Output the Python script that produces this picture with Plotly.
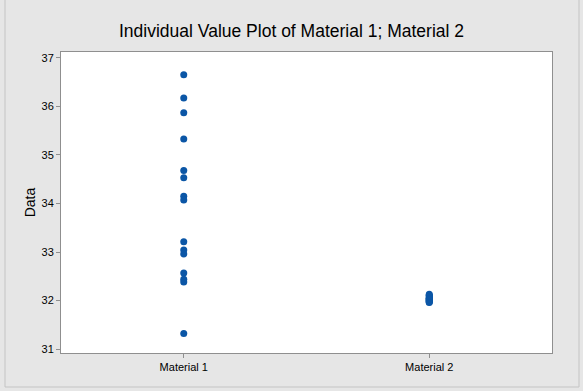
import plotly.graph_objects as go

categories = ["Material 1", "Material 2"]
material_1 = [36.65, 36.17, 35.87, 35.33, 34.68, 34.53, 34.15, 34.07,
              33.21, 33.04, 32.96, 32.57, 32.44, 32.38, 31.32]
material_2 = [32.13, 32.10, 32.08, 32.06, 32.05, 32.03, 32.02, 32.00,
              31.99, 31.98, 31.97, 32.11, 32.04, 32.01, 31.96]
y_ticks = [31, 32, 33, 34, 35, 36, 37]

color = "#0b56a6"
fig = go.Figure()
for cat, vals in zip(categories, [material_1, material_2]):
    fig.add_trace(go.Scatter(
        x=[cat] * len(vals), y=vals, mode="markers",
        marker=dict(color=color, size=7, line=dict(width=0)),
        showlegend=False, hoverinfo="y"))

axis_color = "#8f8f8f"
fig.update_layout(
    width=583, height=391,
    margin=dict(l=61, r=31, t=52, b=38, autoexpand=False),
    paper_bgcolor="#e6e6e6", plot_bgcolor="#ffffff",
    font=dict(family="Liberation Sans, Arial, sans-serif", size=11, color="#000000"),
    title=dict(text="Individual Value Plot of Material 1; Material 2",
               x=0.5, xanchor="center", y=1 - 31 / 391, yanchor="middle",
               font=dict(size=17.5, color="#000000")),
    xaxis=dict(type="category", categoryorder="array", categoryarray=categories,
               range=[-0.5, 1.5], showgrid=False, zeroline=False, automargin=False,
               showline=True, linecolor=axis_color, linewidth=1, mirror=True,
               ticks="outside", ticklen=4, tickcolor=axis_color,
               tickfont=dict(size=11)),
    yaxis=dict(range=[30.92, 37.12], tickvals=y_ticks, showgrid=False, zeroline=False,
               automargin=False,
               showline=True, linecolor=axis_color, linewidth=1, mirror=True,
               ticks="outside", ticklen=4, tickcolor=axis_color,
               tickfont=dict(size=11),
               title=dict(text="Data", font=dict(size=14), standoff=2)),
    shapes=[dict(type="rect", xref="paper", yref="paper",
                 x0=-56 / 491, x1=1 + 27 / 491, y0=-34 / 301, y1=1 + 60 / 301,
                 line=dict(color="#c4c4c4", width=1), fillcolor="rgba(0,0,0,0)",
                 layer="below")],
)

fig.write_html("out.html", config={"displayModeBar": False},
               post_script="document.body.style.margin='0';document.body.style.overflow='hidden';")
